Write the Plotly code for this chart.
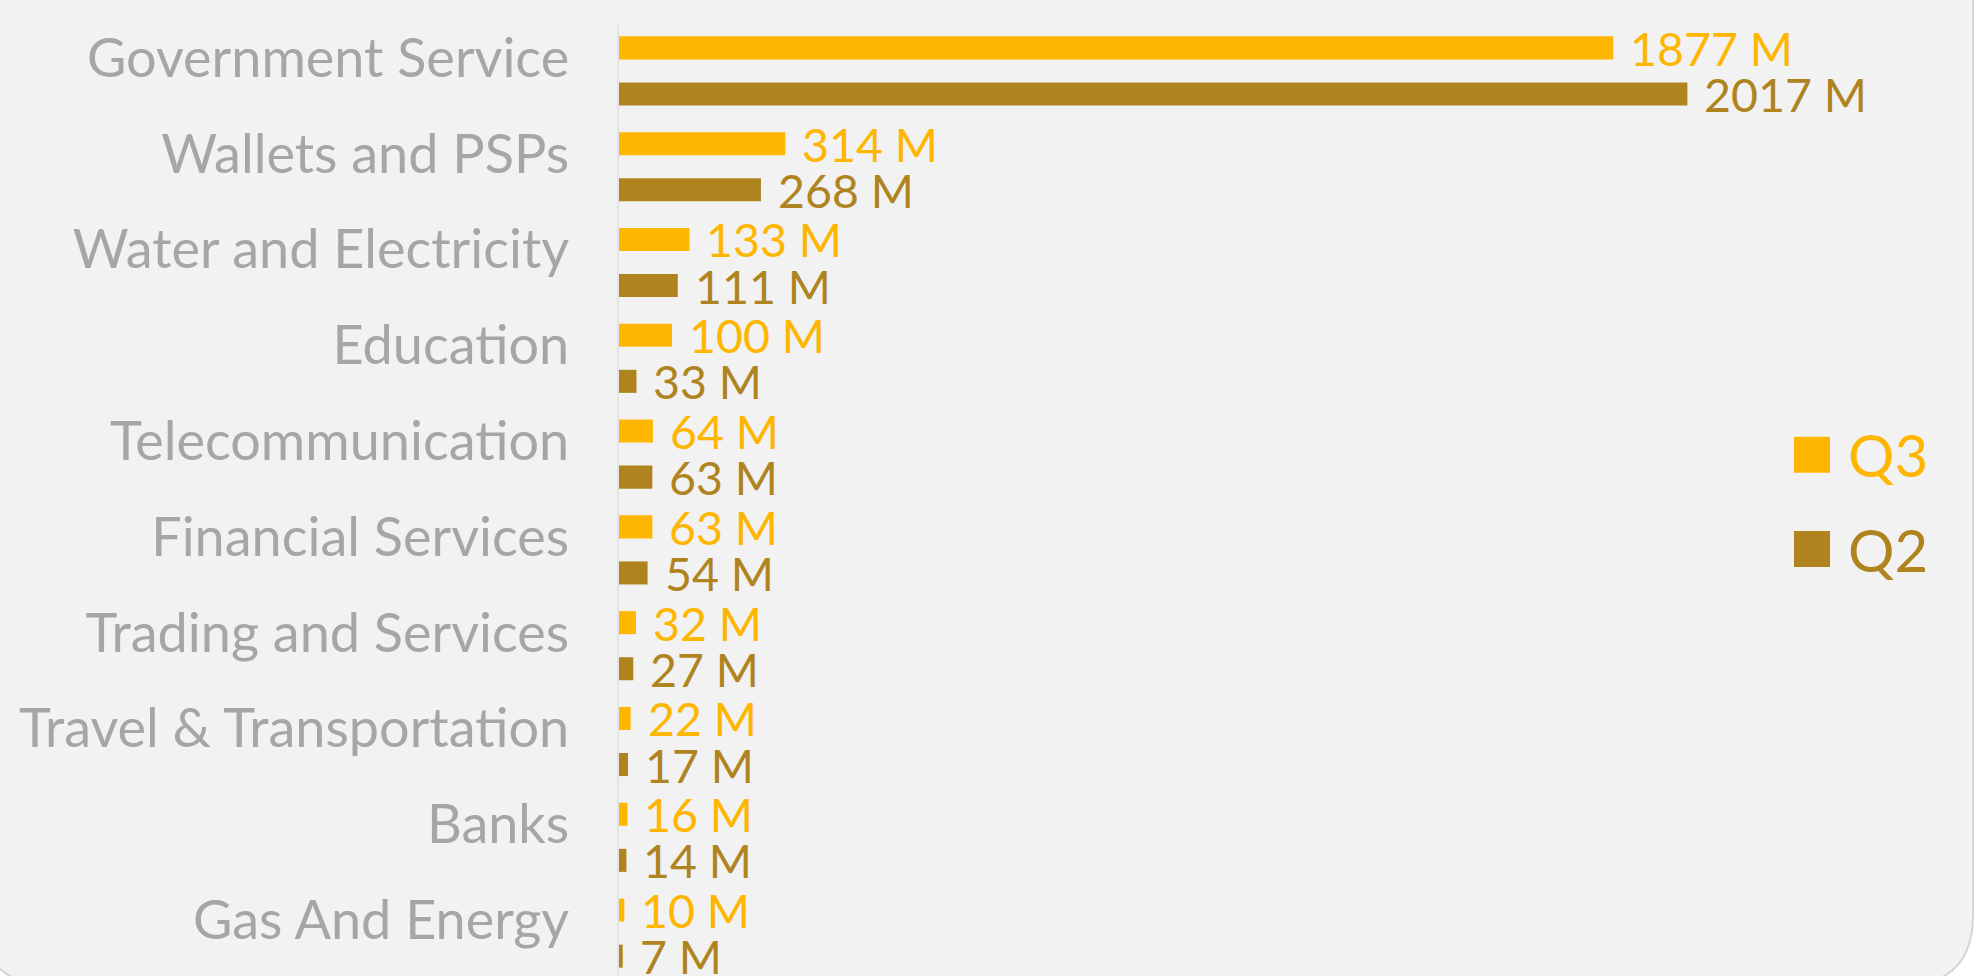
import plotly.graph_objects as go

# Sector totals per quarter (millions)
categories = [
    "Government Service",
    "Wallets and PSPs",
    "Water and Electricity",
    "Education",
    "Telecommunication",
    "Financial Services",
    "Trading and Services",
    "Travel & Transportation",
    "Banks",
    "Gas And Energy",
]
q3_values = [1877, 314, 133, 100, 64, 63, 32, 22, 16, 10]
q2_values = [2017, 268, 111, 33, 63, 54, 27, 17, 14, 7]
series_names = ["Q3", "Q2"]
series_colors = ["#FFB600", "#AF841F"]
series_values = [q3_values, q2_values]

# Canvas geometry (pixels)
W, H = 1974, 976
PLOT_LEFT, PLOT_RIGHT, PLOT_TOP = 619, 1780, 23
PX_PER_UNIT = 0.5297
CAT_PITCH = 95.8
BARGAP, BARGROUPGAP = 0.038, 0.5

FONT = "Lato, 'Open Sans', sans-serif"
LABEL_GRAY = "#A6A6A6"


def px(x):
    return x / W


def py(y):
    return 1 - y / H


fig = go.Figure()
for name, vals, color in zip(series_names, series_values, series_colors):
    fig.add_trace(
        go.Bar(
            y=categories,
            x=vals,
            name=name,
            orientation="h",
            marker=dict(color=color, line=dict(width=0)),
            showlegend=False,
        )
    )

# Value labels placed just past the end of each bar
slot = CAT_PITCH * (1 - BARGAP) / len(series_names)
annotations = []
for i, (vals, color) in enumerate(zip(series_values, series_colors)):
    shift = slot * ((len(series_names) - 1) / 2 - i)
    for cat, v in zip(categories, vals):
        annotations.append(
            dict(
                x=v, y=cat, xref="x", yref="y",
                text=f"{v} M", showarrow=False,
                xanchor="left", yanchor="middle",
                xshift=15, yshift=shift,
                font=dict(family=FONT, size=46.5, color=color, weight=400),
            )
        )

# Legend drawn as coloured squares with matching text
LEG_X0, LEG_SIZE, LEG_TOP, LEG_STEP = 1794, 36, 436.7, 94.3
shapes = []
for i, (name, color) in enumerate(zip(series_names, series_colors)):
    y0 = LEG_TOP + i * LEG_STEP
    shapes.append(
        dict(
            type="rect", xref="paper", yref="paper",
            x0=px(LEG_X0), x1=px(LEG_X0 + LEG_SIZE),
            y0=py(y0 + LEG_SIZE), y1=py(y0),
            fillcolor=color, line=dict(width=0),
        )
    )
    annotations.append(
        dict(
            x=px(LEG_X0 + LEG_SIZE + 16), y=py(y0 + LEG_SIZE / 2),
            xref="paper", yref="paper", text=name, showarrow=False,
            xanchor="left", yanchor="middle",
            font=dict(family=FONT, size=58, color=color, weight=400),
        )
    )

# Rounded card behind the chart
cl, cr, ct, cb, r = -19, 1973, -60, 985, 70
card_path = (
    f"M {px(cl)},{py(ct)} L {px(cr)},{py(ct)} L {px(cr)},{py(cb - r)} "
    f"Q {px(cr)},{py(cb)} {px(cr - r)},{py(cb)} L {px(cl + r)},{py(cb)} "
    f"Q {px(cl)},{py(cb)} {px(cl)},{py(cb - r)} Z"
)
shapes.insert(
    0,
    dict(
        type="path", xref="paper", yref="paper", path=card_path,
        fillcolor="#F2F2F2", line=dict(color="#D6D6D6", width=2), layer="below",
    ),
)

n_visible = (H - PLOT_TOP) / CAT_PITCH

fig.update_layout(
    width=W,
    height=H,
    margin=dict(l=0, r=0, t=0, b=0),
    paper_bgcolor="white",
    plot_bgcolor="rgba(0,0,0,0)",
    barmode="group",
    bargap=BARGAP,
    bargroupgap=BARGROUPGAP,
    showlegend=False,
    shapes=shapes,
    annotations=annotations,
    xaxis=dict(
        domain=[px(PLOT_LEFT), px(PLOT_RIGHT)],
        range=[0, (PLOT_RIGHT - PLOT_LEFT) / PX_PER_UNIT],
        showgrid=False, zeroline=False, showticklabels=False, ticks="",
    ),
    yaxis=dict(
        domain=[0, py(PLOT_TOP)],
        type="category",
        range=[-0.5 + n_visible, -0.5],
        showgrid=False, zeroline=False,
        showline=True, linecolor="#E4E4E4", linewidth=2,
        ticks="",
        ticklabelstandoff=37,
        ticklabelshift=13,
        tickfont=dict(family=FONT, size=54, color=LABEL_GRAY, weight=400),
    ),
)

fig.write_html("out.html")
